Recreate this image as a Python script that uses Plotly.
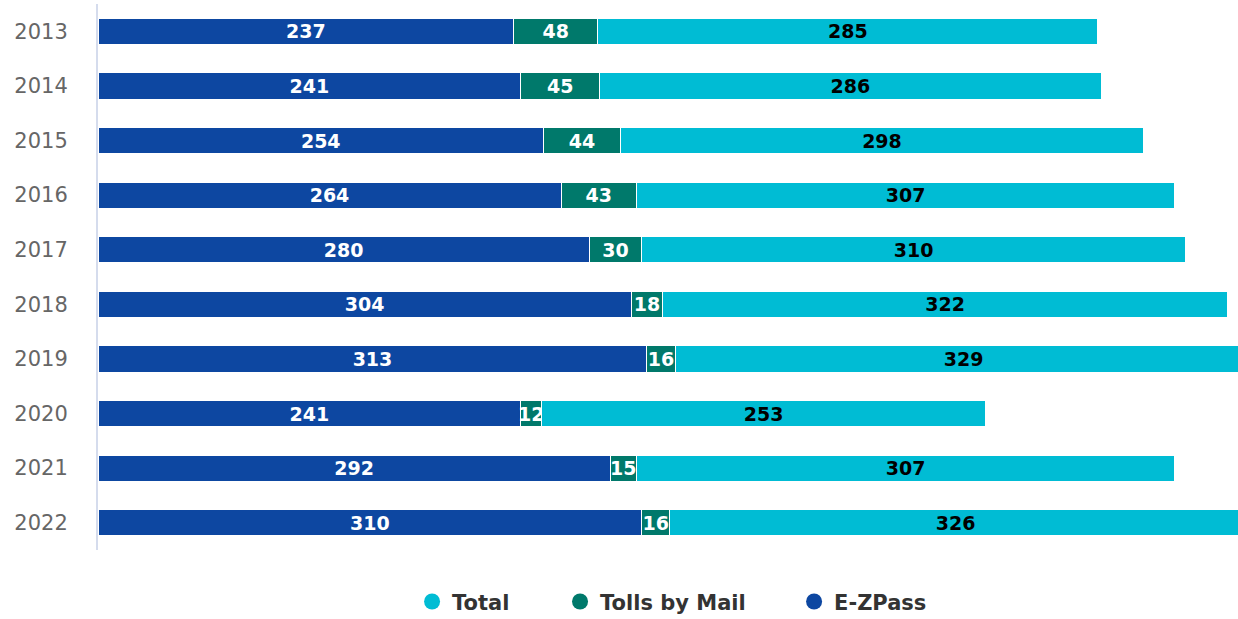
import plotly.graph_objects as go

years = ["2013", "2014", "2015", "2016", "2017", "2018", "2019", "2020", "2021", "2022"]
ezpass = [237, 241, 254, 264, 280, 304, 313, 241, 292, 310]
tolls_by_mail = [48, 45, 44, 43, 30, 18, 16, 12, 15, 16]
total = [285, 286, 298, 307, 310, 322, 329, 253, 307, 326]

C_EZ = "#0d47a1"
C_TBM = "#00796b"
C_TOT = "#00bcd4"
FONT = "DejaVu Sans"

fig = go.Figure()
series = [("E-ZPass", ezpass, C_EZ, "white"),
          ("Tolls by Mail", tolls_by_mail, C_TBM, "white"),
          ("Total", total, C_TOT, "black")]
for name, vals, col, tcol in series:
    fig.add_trace(go.Bar(
        y=years, x=vals, name=name, orientation="h",
        marker=dict(color=col, line=dict(color="white", width=1)),
        text=[str(v) for v in vals], textposition="inside",
        insidetextanchor="middle", textangle=0,
        textfont=dict(family=FONT, size=19, color=tcol, weight="bold"),
        showlegend=False, cliponaxis=True,
    ))

legend_pos = {"Total": ("legend", 0.2755), "Tolls by Mail": ("legend2", 0.4053), "E-ZPass": ("legend3", 0.6106)}
for name, vals, col, tcol in series:
    lg, _ = legend_pos[name]
    fig.add_trace(go.Scatter(
        x=[None], y=[None], mode="markers", name=name,
        marker=dict(color=col, size=22, symbol="circle"),
        showlegend=True, legend=lg,
    ))

legend_common = dict(orientation="h", xanchor="left", y=-0.095, yanchor="middle",
                     font=dict(family=FONT, size=21, color="#333333", weight="bold"),
                     bgcolor="rgba(0,0,0,0)")
layout_legends = {}
for name, (lg, xp) in legend_pos.items():
    layout_legends[lg] = dict(legend_common, x=xp)

fig.update_layout(
    barmode="stack",
    bargap=0.52,
    width=1238, height=619,
    margin=dict(l=98, r=0, t=4, b=69, autoexpand=False),
    plot_bgcolor="white", paper_bgcolor="white",
    font=dict(family=FONT),
    uniformtext=dict(minsize=19, mode="show"),
    xaxis=dict(range=[0, 650], showgrid=False, showticklabels=False, zeroline=False,
               showline=False, fixedrange=True, automargin=False),
    yaxis=dict(categoryorder="array", categoryarray=years, autorange="reversed",
               showgrid=False, showline=True, linecolor="#d5dced", linewidth=2,
               ticks="", ticklabelstandoff=24, automargin=False,
               tickfont=dict(family=FONT, size=21, color="#666666")),
    **layout_legends,
)

fig.write_html("out.html", config={"displayModeBar": False},
               post_script="document.body.style.margin='0';document.body.style.overflow='hidden';")
